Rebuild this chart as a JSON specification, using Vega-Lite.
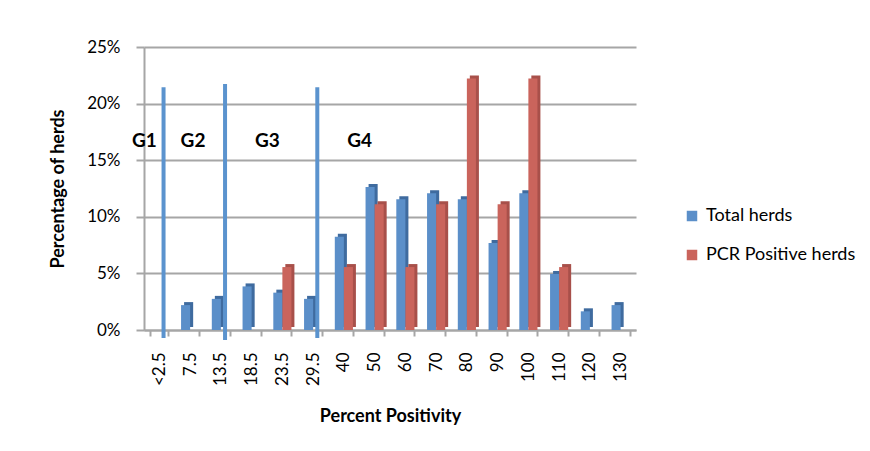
{
  "$schema": "https://vega.github.io/schema/vega-lite/v6.json",
  "autosize": {"type": "none"},
  "width": 492,
  "height": 283,
  "padding": {"left": 144, "top": 47, "right": 234, "bottom": 121},
  "background": "#ffffff",
  "config": {
    "font": "Lato",
    "view": {"stroke": null},
    "axis": {
      "labelFont": "Lato",
      "titleFont": "Lato",
      "labelColor": "#000000",
      "titleColor": "#000000",
      "domainColor": "#A6A6A6",
      "domainWidth": 2,
      "tickColor": "#A6A6A6",
      "tickWidth": 2,
      "gridColor": "#A6A6A6",
      "gridWidth": 2
    },
    "legend": {"labelFont": "Lato"}
  },
  "datasets": {
    "herds": [
      {"cat": "<2.5", "series": "Total herds", "value": 0.0},
      {"cat": "7.5", "series": "Total herds", "value": 0.022},
      {"cat": "13.5", "series": "Total herds", "value": 0.0275},
      {"cat": "18.5", "series": "Total herds", "value": 0.0385},
      {"cat": "23.5", "series": "Total herds", "value": 0.033},
      {"cat": "29.5", "series": "Total herds", "value": 0.0275},
      {"cat": "40", "series": "Total herds", "value": 0.0824},
      {"cat": "50", "series": "Total herds", "value": 0.1264},
      {"cat": "60", "series": "Total herds", "value": 0.1154},
      {"cat": "70", "series": "Total herds", "value": 0.1209},
      {"cat": "80", "series": "Total herds", "value": 0.1154},
      {"cat": "90", "series": "Total herds", "value": 0.0769},
      {"cat": "100", "series": "Total herds", "value": 0.1209},
      {"cat": "110", "series": "Total herds", "value": 0.0495},
      {"cat": "120", "series": "Total herds", "value": 0.0165},
      {"cat": "130", "series": "Total herds", "value": 0.022},
      {"cat": "<2.5", "series": "PCR Positive herds", "value": 0.0},
      {"cat": "7.5", "series": "PCR Positive herds", "value": 0.0},
      {"cat": "13.5", "series": "PCR Positive herds", "value": 0.0},
      {"cat": "18.5", "series": "PCR Positive herds", "value": 0.0},
      {"cat": "23.5", "series": "PCR Positive herds", "value": 0.0556},
      {"cat": "29.5", "series": "PCR Positive herds", "value": 0.0},
      {"cat": "40", "series": "PCR Positive herds", "value": 0.0556},
      {"cat": "50", "series": "PCR Positive herds", "value": 0.1111},
      {"cat": "60", "series": "PCR Positive herds", "value": 0.0556},
      {"cat": "70", "series": "PCR Positive herds", "value": 0.1111},
      {"cat": "80", "series": "PCR Positive herds", "value": 0.2222},
      {"cat": "90", "series": "PCR Positive herds", "value": 0.1111},
      {"cat": "100", "series": "PCR Positive herds", "value": 0.2222},
      {"cat": "110", "series": "PCR Positive herds", "value": 0.0556},
      {"cat": "120", "series": "PCR Positive herds", "value": 0.0},
      {"cat": "130", "series": "PCR Positive herds", "value": 0.0}
    ],
    "cutoffs": [
      {"cat": "<2.5", "top": 0.2144, "bottom": -0.0071},
      {"cat": "13.5", "top": 0.2173, "bottom": -0.0088},
      {"cat": "29.5", "top": 0.2144, "bottom": -0.0071}
    ],
    "groupsA": [
      {"cat": "<2.5", "label": "G1", "pos": 0.167},
      {"cat": "23.5", "label": "G3", "pos": 0.167},
      {"cat": "50", "label": "G4", "pos": 0.167}
    ],
    "groupsB": [
      {"cat": "7.5", "label": "G2", "pos": 0.167}
    ]
  },
  "encoding": {
    "x": {
      "field": "cat",
      "type": "nominal",
      "scale": {
        "domain": ["<2.5", "7.5", "13.5", "18.5", "23.5", "29.5", "40", "50", "60", "70", "80", "90", "100", "110", "120", "130"],
        "paddingInner": 0.41,
        "paddingOuter": 0.205
      },
      "axis": {
        "title": "Percent Positivity",
        "titleFontSize": 18,
        "titleFontWeight": "bold",
        "titlePadding": 22,
        "labelAngle": -90,
        "labelFontSize": 17,
        "labelPadding": 16,
        "tickSize": 6,
        "tickBand": "extent"
      }
    }
  },
  "layer": [
    {
      "data": {"name": "herds"},
      "transform": [{"filter": "datum.series === 'Total herds'"}],
      "mark": {"type": "bar", "width": {"band": 0.5}, "xOffset": -1.5, "yOffset": -3, "y2Offset": 2, "color": "#3F6B9F"},
      "encoding": {
        "y": {
          "field": "value",
          "type": "quantitative",
          "scale": {"domain": [0, 0.25], "nice": false},
          "axis": {
            "title": "Percentage of herds",
            "titleFontSize": 18,
            "titleFontWeight": "bold",
            "titlePadding": 19,
            "format": ".0%",
            "values": [0, 0.05, 0.1, 0.15, 0.2, 0.25],
            "labelFontSize": 17,
            "labelPadding": 16,
            "tickSize": 8
          }
        }
      }
    },
    {
      "data": {"name": "herds"},
      "transform": [{"filter": "datum.series === 'PCR Positive herds'"}],
      "mark": {"type": "bar", "width": {"band": 0.5}, "xOffset": 7.5, "yOffset": -3, "y2Offset": 2, "color": "#A8504A"},
      "encoding": {
        "y": {"field": "value", "type": "quantitative", "scale": {"domain": [0, 0.25], "nice": false}}
      }
    },
    {
      "data": {"name": "herds"},
      "mark": {"type": "bar"},
      "encoding": {
        "xOffset": {"field": "series", "type": "nominal", "scale": {"domain": ["Total herds", "PCR Positive herds"]}},
        "y": {"field": "value", "type": "quantitative", "scale": {"domain": [0, 0.25], "nice": false}},
        "color": {
          "field": "series",
          "type": "nominal",
          "scale": {"domain": ["Total herds", "PCR Positive herds"], "range": ["#5B8FC9", "#CA645C"]},
          "legend": {
            "title": null,
            "orient": "none",
            "legendX": 539,
            "legendY": 160,
            "symbolType": "square",
            "symbolSize": 110,
            "symbolStrokeWidth": 0,
            "labelFontSize": 18,
            "labelColor": "#000000",
            "labelOffset": 5,
            "rowPadding": 21
          }
        }
      }
    },
    {
      "data": {"name": "cutoffs"},
      "mark": {"type": "rule", "strokeWidth": 4, "color": "#5B93CE"},
      "encoding": {
        "x": {"field": "cat", "type": "nominal", "bandPosition": 0.73},
        "y": {"field": "top", "type": "quantitative", "scale": {"domain": [0, 0.25], "nice": false}},
        "y2": {"field": "bottom"}
      }
    },
    {
      "data": {"name": "groupsA"},
      "mark": {"type": "text", "fontSize": 19, "fontWeight": "bold", "font": "Lato", "color": "#000000", "baseline": "middle", "align": "center"},
      "encoding": {
        "x": {"field": "cat", "type": "nominal", "bandPosition": -0.33},
        "y": {"field": "pos", "type": "quantitative", "scale": {"domain": [0, 0.25], "nice": false}},
        "text": {"field": "label"}
      }
    },
    {
      "data": {"name": "groupsB"},
      "mark": {"type": "text", "fontSize": 19, "fontWeight": "bold", "font": "Lato", "color": "#000000", "baseline": "middle", "align": "center"},
      "encoding": {
        "x": {"field": "cat", "type": "nominal", "bandPosition": 0.66},
        "y": {"field": "pos", "type": "quantitative", "scale": {"domain": [0, 0.25], "nice": false}},
        "text": {"field": "label"}
      }
    }
  ]
}
